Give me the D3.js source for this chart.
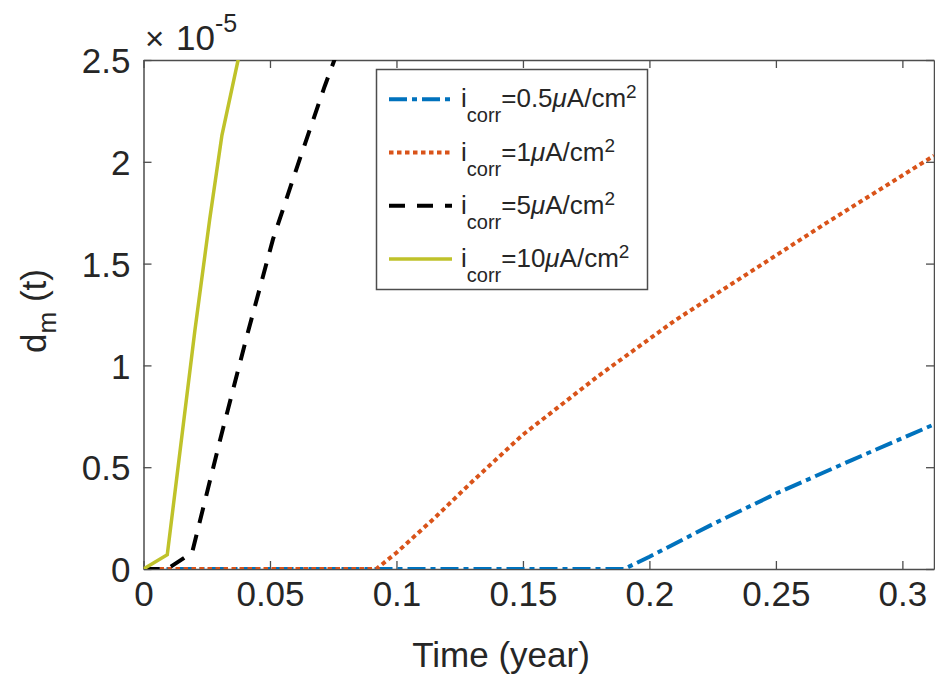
<!DOCTYPE html>
<html>
<head>
<meta charset="utf-8">
<script src="https://cdn.jsdelivr.net/npm/d3@7"></script>
<style>
  body { margin: 0; background: #fff; }
  svg { display: block; font-family: "Liberation Sans", Arial, sans-serif; }
</style>
</head>
<body>
<div id="chart"></div>
<script>
// values are in units of 1e-5, time in years
const icorr05 = [[0, 0], [0.19, 0], [0.2, 0.06], [0.225, 0.22], [0.25, 0.37], [0.28, 0.535], [0.3125, 0.71]];
const icorr1 = [[0, 0], [0.092, 0], [0.1, 0.08], [0.115, 0.25], [0.13, 0.43], [0.15, 0.66], [0.18, 0.95], [0.21, 1.22], [0.24, 1.46], [0.27, 1.7], [0.3125, 2.03]];
const icorr5 = [[0, 0], [0.0094, 0], [0.0192, 0.08], [0.0306, 0.65], [0.041, 1.15], [0.0512, 1.62], [0.0614, 2.0], [0.0716, 2.37], [0.082, 2.72]];
const icorr10 = [[0, 0], [0.0094, 0.07], [0.0203, 1.17], [0.0262, 1.72], [0.031, 2.13], [0.0412, 2.72]];

const seriesNames = ['0.5', '1', '5', '10'];
const xTicks = [0, 0.05, 0.1, 0.15, 0.2, 0.25, 0.3];
const yTicks = [0, 0.5, 1, 1.5, 2, 2.5];

const width = 935, height = 679;
const margin = {top: 60, right: 1, bottom: 110, left: 143.5};

const series = [
  {data: icorr05, color: '#0072bd', dash: '18,5,5,5', w: 4},
  {data: icorr1, color: '#d95319', dash: '4.5,3.5', w: 4},
  {data: icorr5, color: '#000000', dash: '16,12', w: 4},
  {data: icorr10, color: '#bfc22a', dash: null, w: 3.5}
];

const svg = d3.select('#chart').append('svg')
  .attr('width', width)
  .attr('height', height);

const x = d3.scaleLinear().domain([0, 0.3125]).range([margin.left, width - margin.right]);
const y = d3.scaleLinear().domain([0, 2.5]).range([height - margin.bottom, margin.top]);

const axisColor = '#4d4d4d';
const textColor = '#262626';

svg.append('clipPath').attr('id', 'plot-clip')
  .append('rect')
  .attr('x', x.range()[0]).attr('y', y.range()[1])
  .attr('width', x.range()[1] - x.range()[0])
  .attr('height', y.range()[0] - y.range()[1]);

// axes (ticks point inward, mirrored on top and right)
const tickLen = 8;
const gx = svg.append('g').attr('transform', `translate(0,${y(0)})`)
  .call(d3.axisBottom(x).tickValues(xTicks).tickSizeInner(-tickLen).tickSizeOuter(0).tickPadding(12).tickFormat(d => String(d)));
const gxTop = svg.append('g').attr('transform', `translate(0,${y(2.5)})`)
  .call(d3.axisTop(x).tickValues(xTicks).tickSizeInner(-tickLen).tickSizeOuter(0).tickFormat(''));
const gy = svg.append('g').attr('transform', `translate(${x(0)},0)`)
  .call(d3.axisLeft(y).tickValues(yTicks).tickSizeInner(-tickLen).tickSizeOuter(0).tickPadding(13).tickFormat(d => String(d)));
const gyRight = svg.append('g').attr('transform', `translate(${x.range()[1]},0)`)
  .call(d3.axisRight(y).tickValues(yTicks).tickSizeInner(-tickLen).tickSizeOuter(0).tickFormat(''));

[gx, gxTop, gy, gyRight].forEach(g => {
  g.select('.domain').attr('stroke', axisColor).attr('stroke-width', 1.5);
  g.selectAll('.tick line').attr('stroke', axisColor).attr('stroke-width', 1.3);
  g.selectAll('.tick text')
    .attr('fill', textColor)
    .style('font-size', '35px')
    .style('font-family', '"Liberation Sans", Arial, sans-serif');
});
gy.selectAll('.tick text').attr('dy', '0.36em');
gx.selectAll('.tick text').attr('dy', '0.72em');

// lines
const line = d3.line().x(d => x(d[0])).y(d => y(d[1]));
const plot = svg.append('g').attr('clip-path', 'url(#plot-clip)');
series.forEach(s => {
  plot.append('path')
    .datum(s.data)
    .attr('d', line)
    .attr('fill', 'none')
    .attr('stroke', s.color)
    .attr('stroke-width', s.w)
    .attr('stroke-dasharray', s.dash);
});

// exponent label
const expo = svg.append('text').attr('fill', textColor).attr('y', 50);
expo.append('tspan').attr('x', 145).style('font-size', '33px').text('×');
expo.append('tspan').attr('x', 176).style('font-size', '35px').text('10');
expo.append('tspan').attr('x', 215).attr('dy', -18).style('font-size', '25px').text('-5');

// axis labels
svg.append('text')
  .attr('x', 501).attr('y', 667)
  .attr('text-anchor', 'middle')
  .attr('fill', textColor)
  .style('font-size', '35px')
  .text('Time (year)');

const ylab = svg.append('text')
  .attr('transform', 'translate(46,311) rotate(-90)')
  .attr('text-anchor', 'middle')
  .attr('fill', textColor)
  .style('font-size', '35px');
ylab.append('tspan').text('d');
ylab.append('tspan').attr('dy', 10).style('font-size', '26px').text('m');
ylab.append('tspan').attr('dy', -10).text(' (t)');

// legend
const legend = svg.append('g');
legend.append('rect')
  .attr('x', 376.5).attr('y', 69.5)
  .attr('width', 271).attr('height', 220)
  .attr('fill', '#fff')
  .attr('stroke', axisColor)
  .attr('stroke-width', 1.5);

const rowY = d3.scalePoint().domain(seriesNames).range([99.3, 259]);
series.forEach((s, i) => {
  const cy = rowY(seriesNames[i]);
  legend.append('line')
    .attr('x1', 389).attr('x2', 452)
    .attr('y1', cy).attr('y2', cy)
    .attr('stroke', s.color)
    .attr('stroke-width', s.w)
    .attr('stroke-dasharray', s.dash);
  const t = legend.append('text')
    .attr('x', 461).attr('y', cy + 8)
    .attr('fill', textColor)
    .style('font-size', '26px');
  t.append('tspan').text('i');
  t.append('tspan').attr('dy', 15).style('font-size', '20px').text('corr');
  t.append('tspan').attr('dy', -15).text('=' + seriesNames[i]);
  t.append('tspan').style('font-style', 'italic').text('μ');
  t.append('tspan').text('A/cm');
  t.append('tspan').attr('dy', -9).style('font-size', '19px').text('2');
});
</script>
</body>
</html>
